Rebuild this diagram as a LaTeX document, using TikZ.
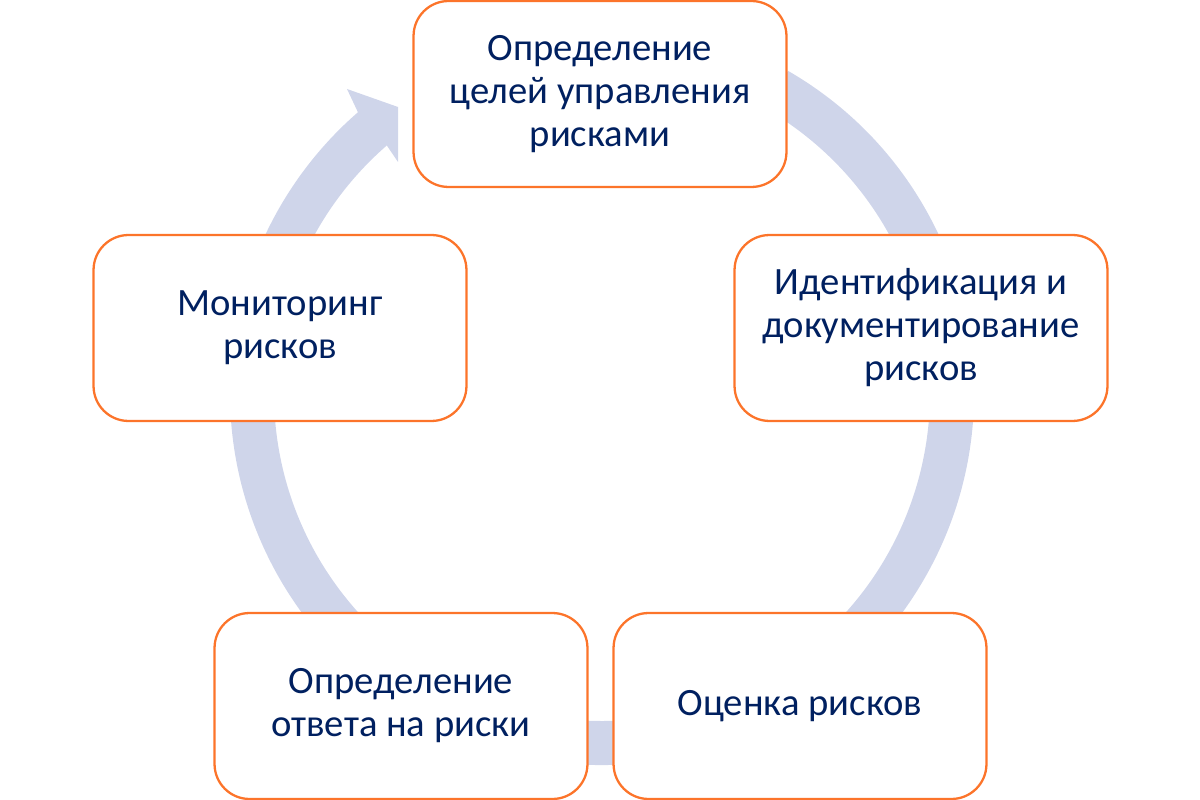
\documentclass[tikz,border=0pt]{standalone}
\usepackage{fontspec}
\setmainfont{Carlito}
\usetikzlibrary{calc}
\definecolor{ringblue}{RGB}{207,213,234}
\definecolor{boxorange}{RGB}{252,116,42}
\definecolor{textnavy}{RGB}{0,32,96}
\begin{document}
\begin{tikzpicture}[x=0.02cm,y=-0.02cm,
    stage/.style={draw=boxorange,line width=1.3pt,fill=white,rounded corners=0.7cm,
      minimum width=7.46cm,minimum height=3.72cm,align=center,text=textnavy,
      font=\fontsize{22pt}{24.5pt}\selectfont}]
      \useasboundingbox (0,0) rectangle (1200,800);
      \coordinate (hub) at (602,393);
      % cycle arrow
      \fill[ringblue] ($(hub)+(-60:372)$) arc[start angle=-60,end angle=229,radius=372]
        -- (347,89) -- (398,107) -- (398,162) -- ($(hub)+(229:328)$)
        arc[start angle=229,end angle=-60,radius=328] -- cycle;
      \draw
        (600,94) node[stage] (goals){Определение\\целей управления\\рисками}
        (921,328) node[stage] (ident){Идентификация и\\документирование\\рисков}
        (800,706) node[stage] (assess){Оценка рисков}
        (401,706) node[stage] (response){Определение\\ответа на риски}
        (280,328) node[stage] (monitor){Мониторинг\\рисков};
    \end{tikzpicture}
\end{document}
